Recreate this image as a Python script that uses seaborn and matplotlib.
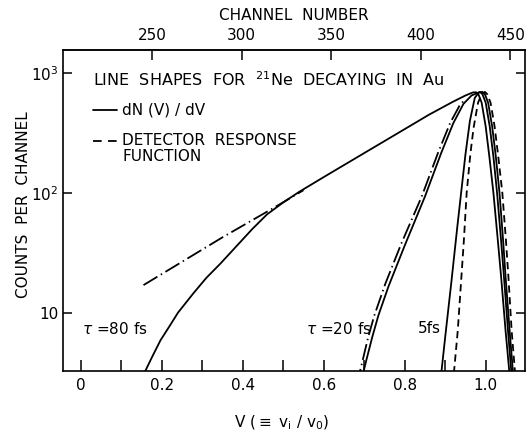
import numpy as np
import pandas as pd
import matplotlib
matplotlib.use("Agg")
import matplotlib.pyplot as plt
import seaborn as sns
from matplotlib.ticker import FixedLocator, FixedFormatter, NullLocator

# ---------------- data ----------------
# tau = 80 fs, dN(V)/dV (solid)
v_80 = [0.150, 0.160, 0.175, 0.197, 0.220, 0.240, 0.278, 0.310, 0.345, 0.385,
        0.424, 0.460, 0.500, 0.540, 0.600, 0.700, 0.800, 0.860, 0.920, 0.950,
        0.968, 0.976, 0.982, 0.990, 1.000, 1.009, 1.019, 1.030, 1.038, 1.049,
        1.058, 1.061]
c_80 = [2.9, 3.3, 4.2, 5.9, 7.8, 10.0, 14.5, 19.5, 25.7, 36,
        50, 66, 83, 102, 135, 214, 339, 447, 575, 646,
        684, 688, 661, 562, 355, 200, 100, 39.8, 20, 7.1,
        3.3, 2.5]
# tau = 80 fs, dash-dot line
v_80dd = [0.155, 0.350, 0.480, 0.550]
c_80dd = [17.0, 42.5, 76, 105]

# tau = 20 fs, solid
v_20 = [0.694, 0.699, 0.705, 0.720, 0.735, 0.760, 0.800, 0.850, 0.890, 0.920,
        0.945, 0.965, 0.986, 0.992, 1.000, 1.010, 1.019, 1.028, 1.038, 1.045,
        1.055, 1.063, 1.066]
c_20 = [2.5, 3.3, 4.0, 6.3, 9.5, 16.6, 36.3, 93, 214, 380,
        550, 646, 692, 661, 562, 355, 200, 100, 39.8, 20,
        7.1, 3.3, 2.5]
# tau = 20 fs, dash-dot line
v_20dd = [0.684, 0.690, 0.696, 0.710, 0.725, 0.752, 0.792, 0.842, 0.882, 0.912,
          0.936, 0.950]
c_20dd = [2.5, 3.3, 4.0, 6.3, 9.5, 17.4, 38.0, 93, 214, 380,
          537, 603]

# tau = 5 fs, solid
v_5 = [0.889, 0.891, 0.900, 0.915, 0.930, 0.940, 0.950, 0.961, 0.973, 0.983,
       0.992, 0.998, 1.006, 1.016, 1.025, 1.034, 1.043, 1.049, 1.059, 1.067,
       1.069]
c_5 = [2.5, 3.3, 6.3, 17.8, 52.5, 105, 209, 398, 617, 684,
       692, 661, 562, 355, 200, 100, 39.8, 20, 7.1, 3.3,
       2.5]

# detector response function (dashed)
v_det = [0.920, 0.922, 0.931, 0.940, 0.946, 0.953, 0.962, 0.970, 0.981, 0.990,
         0.998, 1.004, 1.012, 1.022, 1.031, 1.041, 1.050, 1.056, 1.064, 1.072,
         1.074]
c_det = [2.5, 3.3, 7.1, 20, 39.8, 100, 209, 347, 562, 661,
         692, 661, 562, 355, 200, 100, 39.8, 20, 7.1, 3.3,
         2.5]

x_ticks = [0.0, 0.1, 0.2, 0.3, 0.4, 0.5, 0.6, 0.7, 0.8, 0.9, 1.0]
x_ticklabels = ["0", "", "0.2", "", "0.4", "", "0.6", "", "0.8", "", "1.0"]
y_ticks = [10, 100, 1000]
y_ticklabels = ["10", "$10^2$", "$10^3$"]
channel_ticks = [250, 300, 350, 400, 450]
# channel calibration: channel 250 -> V 0.176, 0.004425 V / channel
CH0, V_CH0, DV_PER_CH = 250.0, 0.176, 0.004425

# ---------------- figure ----------------
sns.set_style("ticks")
plt.rcParams["font.family"] = ["DejaVu Sans"]
plt.rcParams["mathtext.fontset"] = "dejavusans"
plt.rcParams["text.color"] = "black"
plt.rcParams["axes.labelcolor"] = "black"
plt.rcParams["xtick.color"] = "black"
plt.rcParams["ytick.color"] = "black"

fig = plt.figure(figsize=(5.28, 4.34), dpi=100)
L, R, B, T = 62.5 / 528, 525 / 528, 1 - 370.7 / 434, 1 - 49.8 / 434
ax = fig.add_axes([L, B, R - L, T - B])

lw = 1.3
dashdot = (0, (9, 2.2, 0.8, 2.2))
dashed = (0, (4, 2.5))

def draw(v, c, ls="-"):
    df = pd.DataFrame({"V": v, "counts": c})
    sns.lineplot(data=df, x="V", y="counts", ax=ax, color="black", lw=lw,
                 sort=False, estimator=None, linestyle=ls)

draw(v_80, c_80)
draw(v_80dd, c_80dd, dashdot)
draw(v_20, c_20)
draw(v_20dd, c_20dd, dashdot)
draw(v_5, c_5)
draw(v_det, c_det, dashed)

ax.set_yscale("log")
ax.set_xlim(-0.045, 1.097)
ax.set_ylim(3.29, 1552)

ax.xaxis.set_major_locator(FixedLocator(x_ticks))
ax.xaxis.set_major_formatter(FixedFormatter(x_ticklabels))
ax.yaxis.set_major_locator(FixedLocator(y_ticks))
ax.yaxis.set_major_formatter(FixedFormatter(y_ticklabels))
ax.yaxis.set_minor_locator(NullLocator())
ax.xaxis.set_minor_locator(NullLocator())

for s in ax.spines.values():
    s.set_visible(True)
    s.set_linewidth(1.2)
    s.set_color("black")

ax.tick_params(axis="x", direction="in", length=8, width=1.1, labelsize=11, pad=5,
               colors="black", bottom=True, top=False)
ax.tick_params(axis="y", direction="in", length=6.5, width=1.1, labelsize=11, pad=3,
               colors="black", left=True, right=True)

ax.set_xlabel(r"V ($\equiv$ v$_\mathregular{i}$ / v$_\mathregular{0}$)", fontsize=11,
              color="black")
ax.xaxis.set_label_coords(0.4746, -0.135)
ax.set_ylabel("COUNTS  PER  CHANNEL", fontsize=11, color="black")
ax.yaxis.set_label_coords(-0.068, 0.519)

# top channel axis
def v2c(v):
    return CH0 + (np.asarray(v) - V_CH0) / DV_PER_CH

def c2v(c):
    return V_CH0 + (np.asarray(c) - CH0) * DV_PER_CH

sec = ax.secondary_xaxis("top", functions=(v2c, c2v))
sec.set_xticks(channel_ticks)
sec.xaxis.set_minor_locator(NullLocator())
sec.tick_params(axis="x", direction="in", length=7, width=1.1, labelsize=11, pad=5,
                colors="black")
sec.spines["top"].set_linewidth(1.2)
sec.set_xlabel("CHANNEL  NUMBER", fontsize=11, labelpad=6, color="black")

# annotation & legend
ta = ax.transAxes
ax.text(0.066, 0.906, r"LINE  SHAPES  FOR  $^{21}$Ne  DECAYING  IN  Au",
        transform=ta, fontsize=11.5, ha="left", va="center", color="black")
ax.plot([0.066, 0.118], [0.812, 0.812], transform=ta, color="black", lw=lw)
ax.text(0.129, 0.812, "dN (V) / dV", transform=ta, fontsize=11, ha="left", va="center",
        color="black")
ax.plot([0.066, 0.118], [0.716, 0.716], transform=ta, color="black", lw=lw,
        linestyle=(0, (4.8, 3.5)))
ax.text(0.129, 0.716, "DETECTOR  RESPONSE", transform=ta, fontsize=11,
        ha="left", va="center", color="black")
ax.text(0.129, 0.666, "FUNCTION", transform=ta, fontsize=11, ha="left", va="center",
        color="black")

ax.text(0.043, 0.131, r"$\tau$ =80 fs", transform=ta, fontsize=11, ha="left", va="center",
        color="black")
ax.text(0.5265, 0.131, r"$\tau$ =20 fs", transform=ta, fontsize=11, ha="left", va="center",
        color="black")
ax.text(0.7676, 0.131, "5fs", transform=ta, fontsize=11, ha="left", va="center",
        color="black")

fig.savefig("out.png", dpi=100)
